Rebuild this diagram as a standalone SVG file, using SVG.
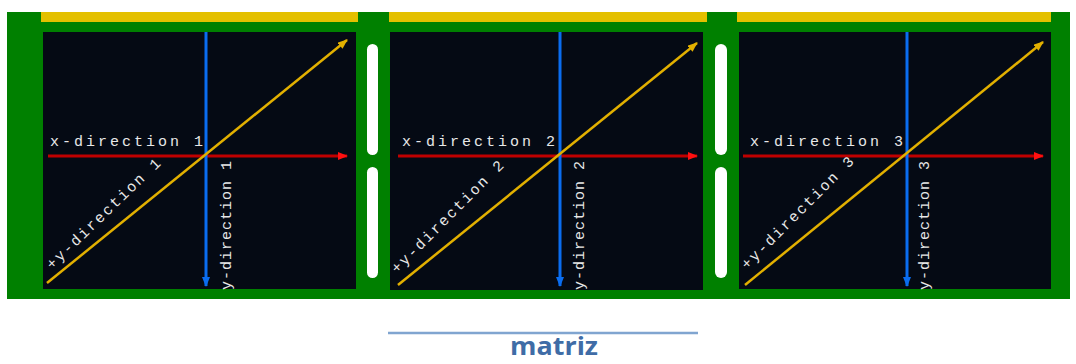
<svg xmlns="http://www.w3.org/2000/svg" width="1076" height="364" viewBox="0 0 1076 364">
<style>
.bar{fill:#e4c000}
.panel{fill:#050a14}
.pill{fill:#ffffff}
.xl{stroke:#c00000;stroke-width:3;fill:none}
.yl{stroke:#0a6df0;stroke-width:3;fill:none}
.dl{stroke:#e2b000;stroke-width:2.5;fill:none}
.lbl{font-family:"Liberation Mono","DejaVu Sans Mono",monospace;font-size:15px;fill:#e8e8e8;letter-spacing:3px}
.vl{font-family:"Liberation Mono","DejaVu Sans Mono",monospace;font-size:15px;fill:#e8e8e8;letter-spacing:1px}
.dlb{font-family:"Liberation Mono","DejaVu Sans Mono",monospace;font-size:15px;fill:#e8e8e8;letter-spacing:2px}
</style>
<defs>
<marker id="ar" markerWidth="10" markerHeight="8" refX="9" refY="4" orient="auto" markerUnits="userSpaceOnUse"><path d="M0,0 L10,4 L0,8 Z" fill="#ff1010"/></marker>
<marker id="ab" markerWidth="10" markerHeight="8" refX="9" refY="4" orient="auto" markerUnits="userSpaceOnUse"><path d="M0,0 L10,4 L0,8 Z" fill="#0a6df0"/></marker>
<marker id="ay" markerWidth="10" markerHeight="8" refX="9" refY="4" orient="auto" markerUnits="userSpaceOnUse"><path d="M0,0 L10,4 L0,8 Z" fill="#e2b000"/></marker>
</defs>
<rect x="7" y="12" width="1063" height="287" fill="#008000"/>
<g id="pills">
<rect class="pill" x="367" y="44" width="11" height="111" rx="5.5"/>
<rect class="pill" x="367" y="167" width="11" height="111" rx="5.5"/>
<rect class="pill" x="715" y="44" width="12" height="111" rx="6"/>
<rect class="pill" x="715" y="167" width="12" height="111" rx="6"/>
</g>
<g id="panel1">
<rect class="bar" x="41" y="12" width="317" height="10"/>
<rect class="panel" x="43" y="32" width="313" height="257"/>
</g>
<g id="panel2">
<rect class="bar" x="389" y="12" width="318" height="10"/>
<rect class="panel" x="390" y="32" width="313" height="258"/>
</g>
<g id="panel3">
<rect class="bar" x="737" y="12" width="314" height="10"/>
<rect class="panel" x="739" y="32" width="312" height="257"/>
</g>
<g id="connectors">
<line class="xl" x1="48" y1="156" x2="347" y2="156" marker-end="url(#ar)"/>
<line class="yl" x1="206" y1="32" x2="206" y2="286" marker-end="url(#ab)"/>
<line class="dl" x1="47" y1="283" x2="347" y2="40" marker-end="url(#ay)"/>
<line class="xl" x1="398" y1="156" x2="697" y2="156" marker-end="url(#ar)"/>
<line class="yl" x1="560" y1="32" x2="560" y2="286" marker-end="url(#ab)"/>
<line class="dl" x1="398" y1="285" x2="697" y2="43" marker-end="url(#ay)"/>
<line class="xl" x1="743" y1="156" x2="1043" y2="156" marker-end="url(#ar)"/>
<line class="yl" x1="907" y1="32" x2="907" y2="286" marker-end="url(#ab)"/>
<line class="dl" x1="745" y1="285" x2="1043" y2="42" marker-end="url(#ay)"/>
</g>
<g id="labels">
<text class="lbl" x="50" y="146">x-direction 1</text>
<text class="vl" transform="translate(231,290) rotate(-90)">y-direction 1</text>
<text class="dlb" transform="translate(52,270) rotate(-44)">+y-direction 1</text>
<text class="lbl" x="402" y="146">x-direction 2</text>
<text class="vl" transform="translate(584,290) rotate(-90)">y-direction 2</text>
<text class="dlb" transform="translate(397,274) rotate(-45)">+y-direction 2</text>
<text class="lbl" x="750" y="146">x-direction 3</text>
<text class="vl" transform="translate(929,290) rotate(-90)">y-direction 3</text>
<text class="dlb" transform="translate(747,270) rotate(-45)">+y-direction 3</text>
</g>
<g id="title">
<line x1="388" y1="333" x2="698" y2="333" stroke="#80a5d0" stroke-width="2.5"/>
<text x="554" y="355" text-anchor="middle" font-family="'Open Sans','Liberation Sans',sans-serif" font-weight="bold" font-size="25" fill="#3f6ca6" textLength="88" lengthAdjust="spacingAndGlyphs">matriz</text>
</g>
</svg>
